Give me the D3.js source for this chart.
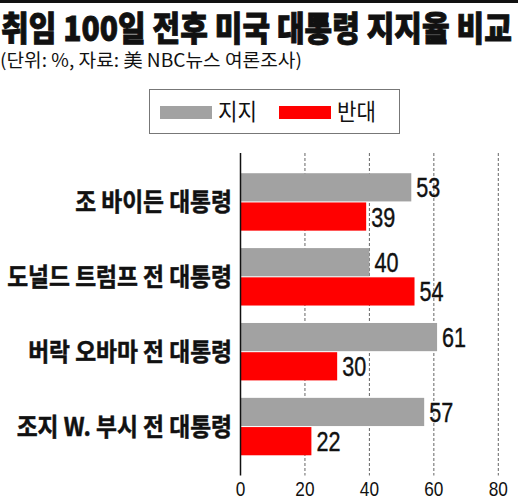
<!DOCTYPE html>
<html>
<head>
<meta charset="utf-8">
<script src="https://cdn.jsdelivr.net/npm/d3@7"></script>
<style>
  body { margin: 0; background: #fff; }
  svg { display: block; }
</style>
</head>
<body>
<div id="chart"></div>
<script>
const categories = ['조 바이든 대통령', '도널드 트럼프 전 대통령', '버락 오바마 전 대통령', '조지 W. 부시 전 대통령'];
const approve = [53, 40, 61, 57];
const oppose = [39, 54, 30, 22];
const seriesNames = ['지지', '반대'];
const tickValues = [0, 20, 40, 60, 80];

const colours = ['#a2a2a2', '#ff0000'];
const kr = '"Noto Sans CJK KR", "Noto Sans", sans-serif';
const latin = '"Liberation Sans", Arial, sans-serif';

const width = 518, height = 496;

const svg = d3.select('#chart').append('svg')
    .attr('width', width)
    .attr('height', height);

// squeeze a text element horizontally, the original uses a condensed font
function squeeze(sel, factor) {
    sel.each(function() {
        const len = this.getComputedTextLength();
        d3.select(this)
            .attr('textLength', len * factor)
            .attr('lengthAdjust', 'spacingAndGlyphs');
    });
}

// top rule
svg.append('rect')
    .attr('x', 0).attr('y', 0)
    .attr('width', width).attr('height', 3)
    .attr('fill', '#111');

// title, scaled down to the width of the original
const titleG = svg.append('g');
const title = titleG.append('text')
    .attr('x', 0)
    .attr('y', 0)
    .attr('font-family', kr)
    .attr('font-weight', 900)
    .attr('font-size', 34)
    .attr('fill', '#111')
    .attr('stroke', '#111')
    .attr('stroke-width', 0.9)
    .text('취임 100일 전후 미국 대통령 지지율 비교');
const titleScale = 511 / title.node().getComputedTextLength();
titleG.attr('transform', `translate(1, 41) scale(${titleScale}, 1)`);

const subG = svg.append('g');
const sub = subG.append('text')
    .attr('x', 0)
    .attr('y', 0)
    .attr('font-family', kr)
    .attr('font-size', 18)
    .attr('fill', '#111')
    .text('(단위: %, 자료:  美 NBC뉴스 여론조사)');
const subScale = 302 / sub.node().getComputedTextLength();
subG.attr('transform', `translate(0, 67) scale(${subScale}, 1)`);

// legend
const legend = svg.append('g');
legend.append('rect')
    .attr('x', 149.5).attr('y', 89.5)
    .attr('width', 250).attr('height', 44)
    .attr('fill', '#fff')
    .attr('stroke', '#777');

const legendX = [160, 279];
seriesNames.forEach((name, i) => {
    legend.append('rect')
        .attr('x', legendX[i]).attr('y', 106)
        .attr('width', 52).attr('height', 13)
        .attr('fill', colours[i]);
    legend.append('text')
        .attr('x', legendX[i] + 58)
        .attr('y', 120)
        .attr('font-family', kr)
        .attr('font-size', 23)
        .attr('fill', '#111')
        .text(name)
        .call(squeeze, 0.92);
});

// scales
const x = d3.scaleLinear()
    .domain([0, 80])
    .range([240.5, 498.3]);

const y = d3.scaleBand()
    .domain(categories)
    .range([153, 475.5])
    .paddingInner(0.233)
    .paddingOuter(0.27);

const ySub = d3.scaleBand()
    .domain(seriesNames)
    .range([0, y.bandwidth()])
    .paddingInner(0.035);

const rows = categories.map((c, i) => ({category: c, values: [approve[i], oppose[i]]}));

// dashed grid lines
svg.append('g')
    .selectAll('line')
    .data(tickValues.filter(t => t > 0))
    .join('line')
    .attr('x1', d => x(d)).attr('x2', d => x(d))
    .attr('y1', 153).attr('y2', 475.5)
    .attr('stroke', '#555')
    .attr('stroke-width', 0.9)
    .attr('stroke-dasharray', '3,2');

// bars
const group = svg.append('g')
    .selectAll('g')
    .data(rows)
    .join('g')
    .attr('transform', d => `translate(0, ${y(d.category)})`);

group.selectAll('rect')
    .data(d => d.values.map((v, i) => ({series: seriesNames[i], value: v, i})))
    .join('rect')
    .attr('x', x(0))
    .attr('y', d => ySub(d.series))
    .attr('width', d => x(d.value) - x(0))
    .attr('height', ySub.bandwidth())
    .attr('fill', d => colours[d.i]);

group.selectAll('text.value')
    .data(d => d.values.map((v, i) => ({series: seriesNames[i], value: v, i})))
    .join('text')
    .attr('class', 'value')
    .attr('x', d => x(d.value) + 5)
    .attr('y', d => ySub(d.series) + ySub.bandwidth() / 2 + 10)
    .attr('font-family', latin)
    .attr('font-size', 27)
    .attr('fill', '#111')
    .attr('stroke', '#111')
    .attr('stroke-width', 0.4)
    .text(d => d.value)
    .call(squeeze, 0.8);

// category labels
svg.append('g')
    .selectAll('text')
    .data(categories)
    .join('text')
    .attr('x', 232)
    .attr('y', d => y(d) + y.bandwidth() / 2 + 9)
    .attr('text-anchor', 'end')
    .attr('font-family', kr)
    .attr('font-weight', 700)
    .attr('font-size', 25)
    .attr('fill', '#111')
    .attr('stroke', '#111')
    .attr('stroke-width', 0.5)
    .text(d => d)
    .call(squeeze, 0.91);

// axis line
svg.append('line')
    .attr('x1', x(0)).attr('x2', x(0))
    .attr('y1', 153).attr('y2', 475.5)
    .attr('stroke', '#111')
    .attr('stroke-width', 1.5);

// tick labels
svg.append('g')
    .selectAll('text')
    .data(tickValues)
    .join('text')
    .attr('x', d => x(d))
    .attr('y', 496)
    .attr('text-anchor', 'middle')
    .attr('font-family', latin)
    .attr('font-size', 21)
    .attr('fill', '#111')
    .text(d => d)
    .call(squeeze, 0.82);
</script>
</body>
</html>
